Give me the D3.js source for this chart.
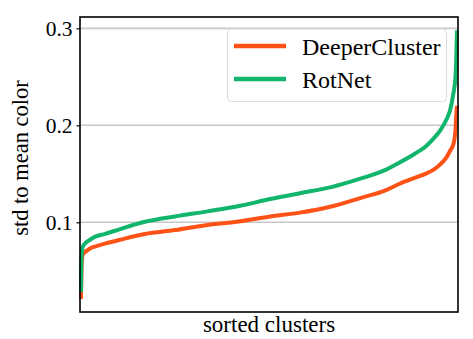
<!DOCTYPE html>
<html>
<head>
<meta charset="utf-8">
<script src="https://cdn.jsdelivr.net/npm/d3@7"></script>
<style>
  body { margin: 0; background: #fff; }
</style>
</head>
<body>
<div id="app"></div>
<script>
// cluster rank (out of 1000 sorted clusters)
const ranks = [0, 1, 3, 5, 13, 24, 37, 64, 104, 170, 250, 332, 423, 503, 582, 662, 742, 809, 848, 888, 915, 936, 955, 971, 981, 989, 995, 997, 999];
const deeperCluster = [0.021, 0.045, 0.063, 0.067, 0.070, 0.073, 0.075, 0.078, 0.082, 0.088, 0.092, 0.097, 0.101, 0.106, 0.110, 0.116, 0.125, 0.133, 0.140, 0.146, 0.150, 0.154, 0.160, 0.167, 0.174, 0.180, 0.195, 0.210, 0.220];
const rotNet = [0.028, 0.060, 0.072, 0.075, 0.079, 0.082, 0.085, 0.088, 0.093, 0.1005, 0.106, 0.111, 0.117, 0.124, 0.130, 0.136, 0.145, 0.154, 0.162, 0.171, 0.178, 0.186, 0.195, 0.206, 0.216, 0.232, 0.250, 0.268, 0.298];
const seriesNames = ["DeeperCluster", "RotNet"];
const seriesColors = ["#ff5216", "#12b56c"];
const yTicks = [0.1, 0.2, 0.3];

const serif = "'Times New Roman', Tinos, serif";
const w = 473, h = 339;
const padL = 80, padR = 458, padT = 17, padB = 312;

const svg = d3.select("#app")
  .append("svg")
  .attr("width", w)
  .attr("height", h);

const xScale = d3.scaleLinear()
  .domain([0, 999])
  .range([padL + 1, padR - 1]);

const yScale = d3.scaleLinear()
  .domain([0.0075, 0.3117])
  .range([padB, padT]);

// grid
svg.append("g")
  .selectAll("line")
  .data(yTicks)
  .enter()
  .append("line")
  .attr("x1", padL)
  .attr("x2", padR)
  .attr("y1", d => yScale(d))
  .attr("y2", d => yScale(d))
  .attr("stroke", "#c8c8c8")
  .attr("stroke-width", 1.6);

const line = d3.line()
  .curve(d3.curveMonotoneX)
  .x(d => xScale(d[0]))
  .y(d => yScale(d[1]));

[deeperCluster, rotNet].forEach((vals, i) => {
  svg.append("path")
    .datum(ranks.map((r, j) => [r, vals[j]]))
    .attr("d", line)
    .attr("fill", "none")
    .attr("stroke", seriesColors[i])
    .attr("stroke-width", 4)
    .attr("stroke-linejoin", "round");
});

// y axis
const yAxis = d3.axisLeft(yScale)
  .tickValues(yTicks)
  .tickFormat(d3.format(".1f"))
  .tickSize(3.5)
  .tickPadding(4);

const gy = svg.append("g")
  .attr("transform", "translate(" + padL + ",0)")
  .call(yAxis)
  .attr("font-family", serif)
  .attr("font-size", 21.5);
gy.select(".domain").remove();
gy.selectAll(".tick line").attr("stroke", "#000").attr("stroke-width", 1.2);
gy.selectAll(".tick text").attr("fill", "#000");

// frame
svg.append("rect")
  .attr("x", padL)
  .attr("y", padT)
  .attr("width", padR - padL)
  .attr("height", padB - padT)
  .attr("fill", "none")
  .attr("stroke", "#000")
  .attr("stroke-width", 1.6);

// axis labels
svg.append("text")
  .attr("transform", "translate(28,158) rotate(-90)")
  .attr("text-anchor", "middle")
  .attr("font-family", serif)
  .attr("font-size", 22.5)
  .text("std to mean color");

svg.append("text")
  .attr("x", (padL + padR) / 2)
  .attr("y", 332)
  .attr("text-anchor", "middle")
  .attr("font-family", serif)
  .attr("font-size", 23)
  .text("sorted clusters");

// legend
const legend = svg.append("g");
legend.append("rect")
  .attr("x", 227.5)
  .attr("y", 29)
  .attr("width", 219)
  .attr("height", 72.5)
  .attr("rx", 4)
  .attr("fill", "#fff")
  .attr("fill-opacity", 0.8)
  .attr("stroke", "#dcdcdc")
  .attr("stroke-width", 1);

seriesNames.forEach((name, i) => {
  const yy = 46 + i * 33;
  legend.append("line")
    .attr("x1", 234)
    .attr("x2", 286)
    .attr("y1", yy)
    .attr("y2", yy)
    .attr("stroke", seriesColors[i])
    .attr("stroke-width", 4.5);
  legend.append("text")
    .attr("x", 302)
    .attr("y", yy + 9)
    .attr("font-family", serif)
    .attr("font-size", 24)
    .text(name);
});
</script>
</body>
</html>
